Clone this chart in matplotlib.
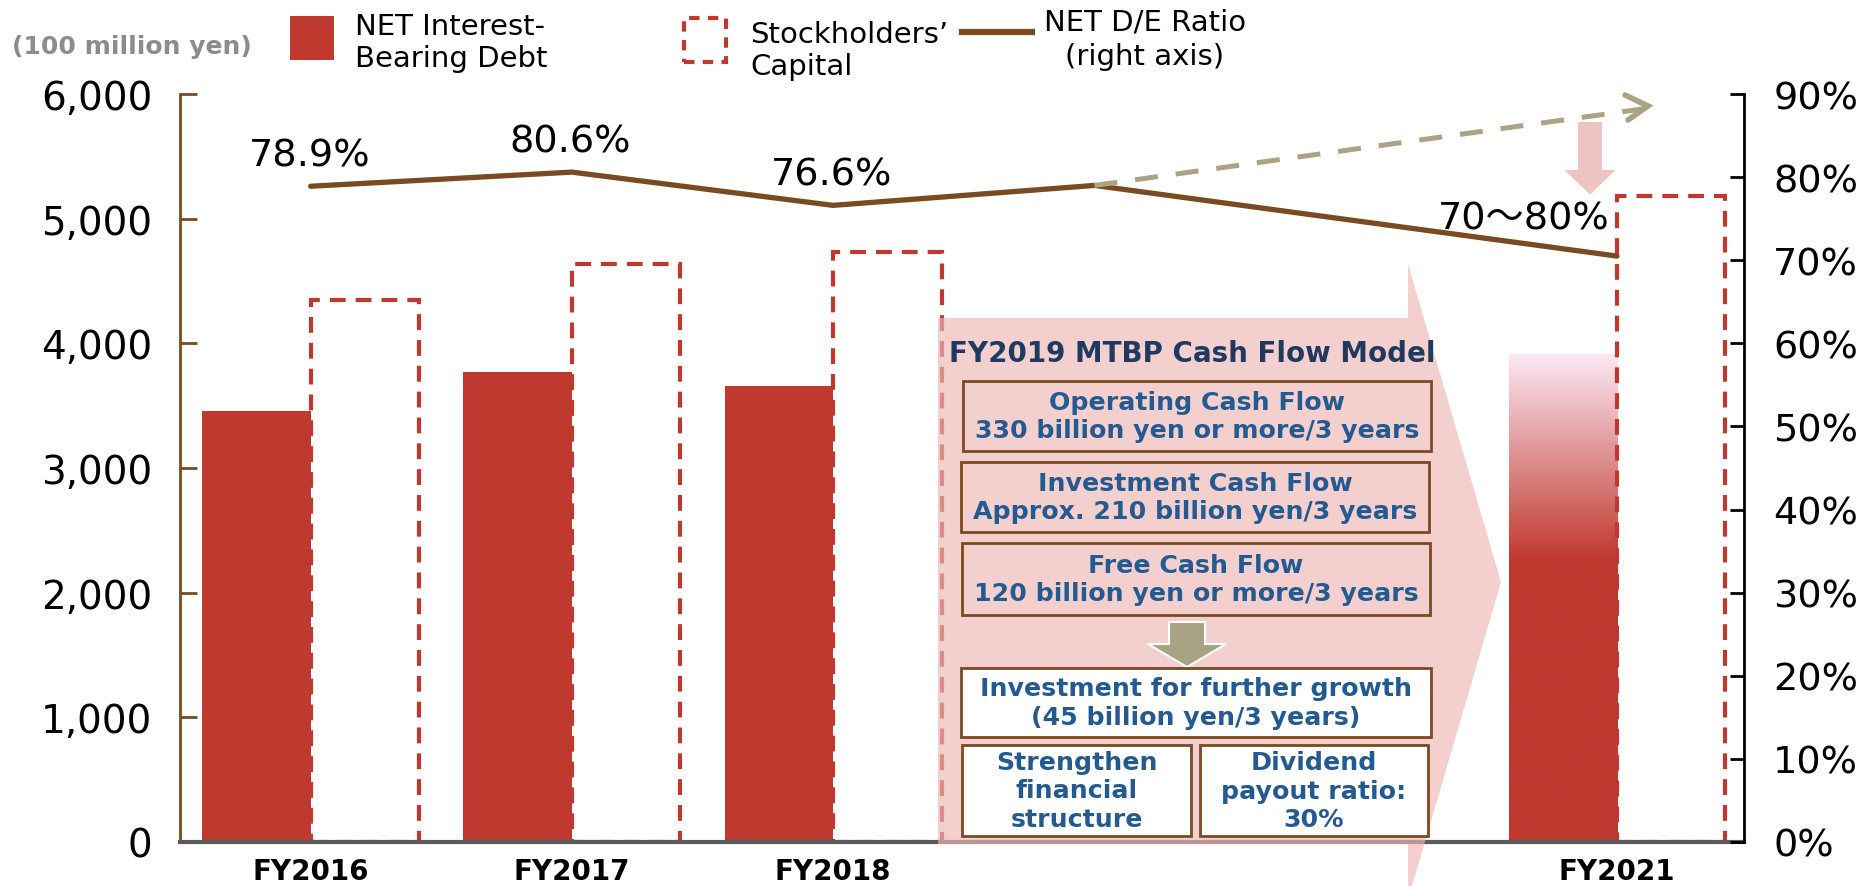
import matplotlib
matplotlib.use('Agg')
import numpy as np
import matplotlib.pyplot as plt
from matplotlib.patches import Polygon, Rectangle
from matplotlib.lines import Line2D
from matplotlib.colors import to_rgb

# data (100 million yen / %)
categories = ['FY2016', 'FY2017', 'FY2018', 'FY2019', 'FY2020', 'FY2021']
tick_labels = ['FY2016', 'FY2017', 'FY2018', '', '', 'FY2021']
net_debt = np.array([3460, 3770, 3660, np.nan, np.nan, 3910])
equity = np.array([4350, 4640, 4730, np.nan, np.nan, 5180])
de_ratio = np.array([78.9, 80.6, 76.6, 79.0, np.nan, 70.5])
de_labels = ['78.9%', '80.6%', '76.6%', '', '', '70～80%']
y_ticks = [0, 1000, 2000, 3000, 4000, 5000, 6000]
y2_ticks = [0, 10, 20, 30, 40, 50, 60, 70, 80, 90]

RED = '#C0392F'
BROWN = '#7B4A20'
TAN = '#ABA383'
NAVY = '#1F3A60'
BLUE = '#245A92'
PINK = (0.93, 0.72, 0.71)

W, H = 1864, 887
fig = plt.figure(figsize=(W / 100, H / 100), dpi=100)
ax = fig.add_axes([180 / W, 1 - 843 / H, (1744 - 180) / W, (843 - 95) / H])


def fx(px):
    return px / W


def fy(py):
    return 1 - py / H


x = np.arange(len(categories))
w = 0.415

# net interest-bearing debt (last one gets a gradient)
colors = [RED] * (len(categories) - 1) + ['none']
bars = ax.bar(x - w / 2, np.nan_to_num(net_debt), w, color=colors, linewidth=0)
last = bars[-1]
x0, bw, top = last.get_x(), last.get_width(), last.get_height()
v = np.linspace(0, top, 300)
t = np.clip((v - 2270) / (top - 2270), 0, 1)
c_red = np.array(to_rgb(RED))
c_top = np.array([252, 232, 244]) / 255
img = (c_red[None, :] * (1 - t[:, None]) + c_top[None, :] * t[:, None])[:, None, :]
ax.imshow(img, extent=[x0, x0 + bw, 0, top], origin='lower', aspect='auto',
          interpolation='bilinear', zorder=1)

# stockholders' capital (dashed outline)
m = ~np.isnan(equity)
ax.bar(x[m] + w / 2, equity[m], w, fill=False, edgecolor=RED, linewidth=3,
       linestyle=(0, (3.8, 2.4)), zorder=2)

ax.set_xlim(-0.5, 5.486)
ax.set_ylim(0, 6000)
ax.set_yticks(y_ticks)
ax.set_yticklabels([f'{t:,}' for t in y_ticks])
ax.set_xticks(x)
ax.set_xticklabels(tick_labels, fontweight='bold')
ax.tick_params(axis='x', length=0, labelsize=20, pad=11)
ax.tick_params(axis='y', direction='in', length=12, width=2, color=BROWN,
               labelsize=28, pad=20)
for s in ['top', 'right']:
    ax.spines[s].set_visible(False)
ax.spines['left'].set_color(BROWN)
ax.spines['left'].set_linewidth(2)
ax.spines['bottom'].set_color('#595959')
ax.spines['bottom'].set_linewidth(3)

# NET D/E ratio on right axis
ax2 = ax.twinx()
ax2.set_ylim(0, 90)
ax2.set_yticks(y2_ticks)
ax2.set_yticklabels([f'{t}%' for t in y2_ticks])
ax2.tick_params(axis='y', direction='in', length=10, width=2, color='black',
                labelsize=27.5, pad=21)
for s in ['top', 'left', 'bottom']:
    ax2.spines[s].set_visible(False)
ax2.spines['right'].set_linewidth(2)

ml = ~np.isnan(de_ratio)
ax2.plot(x[ml], de_ratio[ml], color=BROWN, lw=3.8, solid_capstyle='round', zorder=3)
for xi, val, lab in zip(x[:3], de_ratio[:3], de_labels[:3]):
    ax2.annotate(lab, (xi, val), xytext=(-1, 22), textcoords='offset points',
                 ha='center', va='center', fontsize=27.5)
ax2.annotate(de_labels[5], (x[5], de_ratio[5]), xytext=(-67, 27),
             textcoords='offset points', ha='center', va='center', fontsize=27.5,
             family=['DejaVu Sans', 'Noto Sans CJK JP'])

# dashed "trend" arrow
ax2.plot([3, 5.12], [de_ratio[3], 88.3], color=TAN, lw=3.6,
         linestyle=(0, (4.6, 3.6)), zorder=3)
fig.add_artist(Line2D([fx(1625), fx(1648), fx(1628)], [fy(96), fy(107), fy(121)],
                      color=TAN, lw=4, solid_capstyle='round',
                      solid_joinstyle='miter', transform=fig.transFigure))

# pink down arrow near FY2021
fig.add_artist(Polygon([(fx(a), fy(b)) for a, b in
                        [(1577, 122), (1603, 122), (1603, 170), (1618, 170),
                         (1590, 197), (1562, 170), (1577, 170)]],
                       closed=True, fc='#EEC3C1', ec='white', lw=1.5,
                       transform=fig.transFigure))

# big pink arrow (cash flow model)
fig.add_artist(Polygon([(fx(a), fy(b)) for a, b in
                        [(938, 319), (1408, 319), (1408, 265), (1501, 583),
                         (1408, 901), (1408, 845), (938, 845)]],
                       closed=True, fc=PINK, ec='none', alpha=0.65,
                       transform=fig.transFigure, clip_on=False))

fig.text(fx(1192), fy(354), 'FY2019 MTBP Cash Flow Model', ha='center', va='center',
         fontsize=20, fontweight='bold', color=NAVY)


def box(x0, y0, x1, y1, fc, text):
    fig.add_artist(Rectangle((fx(x0), fy(y1)), (x1 - x0) / W, (y1 - y0) / H,
                             fc=fc, ec=BROWN, lw=2, transform=fig.transFigure))
    fig.text(fx((x0 + x1) / 2), fy((y0 + y1) / 2), text, ha='center', va='center',
             fontsize=18.2, fontweight='bold', color=BLUE, linespacing=1.25)


box(963, 382, 1431, 452, 'none', 'Operating Cash Flow\n330 billion yen or more/3 years')
box(961, 463, 1429, 533, 'none', 'Investment Cash Flow\nApprox. 210 billion yen/3 years')
box(962, 544, 1430, 616, 'none', 'Free Cash Flow\n120 billion yen or more/3 years')
fig.add_artist(Polygon([(fx(a), fy(b)) for a, b in
                        [(1169, 623), (1205, 623), (1205, 645), (1226, 645),
                         (1187, 668), (1148, 645), (1169, 645)]],
                       closed=True, fc='#A8A283', ec='white', lw=1.5,
                       transform=fig.transFigure))
box(961, 669, 1431, 738, 'white', 'Investment for further growth\n(45 billion yen/3 years)')
box(962, 746, 1191, 837, 'white', 'Strengthen\nfinancial\nstructure')
box(1200, 746, 1428, 837, 'white', 'Dividend\npayout ratio:\n30%')

# legend
fig.text(fx(12), fy(47), '(100 million yen)', color='#8C8C8C', fontweight='bold',
         fontsize=18, va='center')
fig.add_artist(Rectangle((fx(290), fy(61)), 44 / W, 44 / H, fc=RED, ec='none',
                         transform=fig.transFigure))
fig.text(fx(355), fy(43), 'NET Interest-\nBearing Debt', fontsize=21, va='center',
         linespacing=1.2)
fig.add_artist(Rectangle((fx(684), fy(63)), 42 / W, 44 / H, fill=False, ec=RED,
                         lw=3, linestyle=(0, (2.5, 2.0)), transform=fig.transFigure))
fig.text(fx(750), fy(51), 'Stockholders’\nCapital', fontsize=21, va='center',
         linespacing=1.2)
fig.add_artist(Line2D([fx(962), fx(1032)], [fy(33), fy(33)], color=BROWN, lw=4.5,
                      transform=fig.transFigure))
fig.text(fx(1145), fy(40), 'NET D/E Ratio\n(right axis)', fontsize=21, ha='center',
         va='center', linespacing=1.3)

plt.savefig('out.png', dpi=100)
